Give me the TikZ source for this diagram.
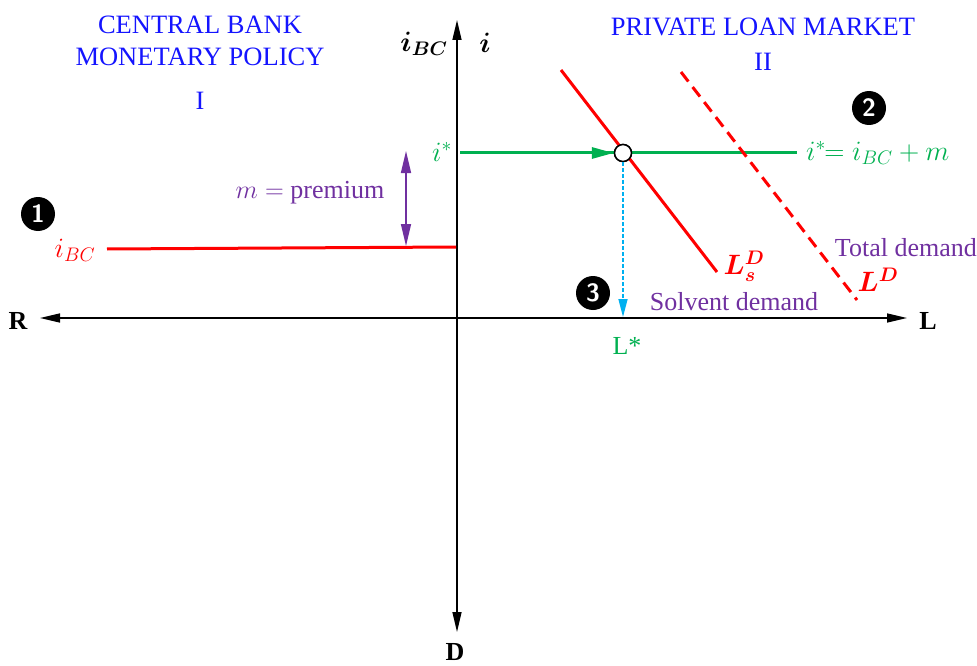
\RequirePackage{fix-cm}
\documentclass[tikz,border=0pt]{standalone}
\usepackage{amsmath}
\usepackage{bm}
\usepackage{fontspec}
\setmainfont{Liberation Serif}
\usetikzlibrary{arrows.meta}
\definecolor{tblue}{RGB}{20,20,255}
\definecolor{tgreen}{RGB}{0,176,80}
\definecolor{tpurple}{RGB}{112,48,160}
\definecolor{tred}{RGB}{255,0,0}
\definecolor{tcyan}{RGB}{0,176,240}
\newcommand{\fs}[1]{\fontsize{#1}{#1}\selectfont}
\tikzset{
  axis/.style={line width=1.5pt,-{Triangle[length=20pt,width=9pt]}},
  title/.style={text=tblue,font=\fs{26.5},align=center,inner sep=0pt},
  axlabel/.style={font=\fs{26}\bfseries,inner sep=0pt},
  numdot/.style={circle,fill=black,text=white,minimum size=34pt,inner sep=0pt,font=\fs{25}\bfseries\sffamily},
  curve/.style={tred,line width=3pt},
  lbl/.style={inner sep=0pt,font=\fs{26}},
  mlbl/.style={inner sep=0pt,font=\fs{28}},
  eqdot/.style={circle,draw=black,fill=white,line width=1.5pt,minimum size=17pt,inner sep=0pt},
}
\begin{document}
\begin{tikzpicture}[x=1pt,y=-1pt]
\useasboundingbox (0,0) rectangle (977,666);
% axes
\coordinate (O) at (457,318);
\coordinate (top) at (457,20);
\coordinate (bot) at (457,632);
\coordinate (left) at (40,318);
\coordinate (right) at (907,318);
\draw[axis] (O) -- (top);
\draw[axis] (O) -- (bot);
\draw[axis] (O) -- (left);
\draw[axis] (O) -- (right);
\node[axlabel] (Rl) at (18,321) {R};
\node[axlabel] (Ll) at (928,321) {L};
\node[axlabel] (Dl) at (455,652) {D};
\node[mlbl] (ibcax) at (424,44) {$\bm{i_{BC}}$};
\node[mlbl] (iax) at (485,43) {$\bm{i}$};
% titles
\node[title] (t1) at (200,41) {CENTRAL BANK\\[6pt]MONETARY POLICY};
\node[title] (t1b) at (200,101) {I};
\node[title] (t2) at (763,27) {PRIVATE LOAN MARKET};
\node[title] (t2b) at (763,62) {II};
% central bank rate
\coordinate (ib0) at (107,249);
\coordinate (ib1) at (456,247);
\draw[tred,line width=3pt] (ib0) -- (ib1);
\node[mlbl,text=tred] (ibcl) at (75,250) {$i_{BC}$};
\node[numdot] (n1) at (38,214) {1};
% premium
\coordinate (pa) at (406,151);
\coordinate (pb) at (406,246);
\draw[tpurple,line width=1.5pt,{Triangle[length=22pt,width=10pt]}-{Triangle[length=22pt,width=10pt]}] (pa) -- (pb);
\node[lbl,text=tpurple] (prem) at (310,193) {$m=$ premium};
% i*
\node[mlbl,text=tgreen] (istar) at (442,152) {$i^{*}$};
\coordinate (g0) at (460,153);
\coordinate (g1) at (797,153);
\node[eqdot] (eq) at (623,153) {};
\draw[tgreen,line width=3pt] (g0) -- (g1);
\draw[tgreen,line width=3pt,-{Triangle[length=22pt,width=11pt]}] (g0) -- (eq.west);
\node[mlbl,text=tgreen,anchor=west] (ieq) at (806,153) {$i^{*}\!\!=i_{BC}+m$};
\node[numdot] (n2) at (869,108) {2};
% demand curves
\coordinate (s0) at (561,70);
\coordinate (s1) at (717,272);
\draw[curve] (s0) -- (s1);
\coordinate (d0) at (681,72);
\coordinate (d1) at (857,300);
\draw[curve,dash pattern=on 12pt off 7pt] (d0) -- (d1);
\node[eqdot] (eq2) at (623,153) {};
\node[mlbl,text=tred] (lsd) at (744,266) {$\bm{L_s^D}$};
\node[mlbl,text=tred] (ld) at (878,280) {$\bm{L^D}$};
\node[lbl,text=tpurple,anchor=east] (tot) at (977,248) {Total demand};
\node[lbl,text=tpurple] (sol) at (734,302) {Solvent demand};
% L*
\coordinate (lstar) at (623,317);
\draw[tcyan,line width=1.5pt,dash pattern=on 4pt off 2pt,-{Triangle[length=18pt,width=9pt]}] (eq2.south) -- (lstar);
\node[numdot] (n3) at (593,293) {3};
\node[lbl,text=tgreen] (lsl) at (627,346) {L*};
\end{tikzpicture}
\end{document}
